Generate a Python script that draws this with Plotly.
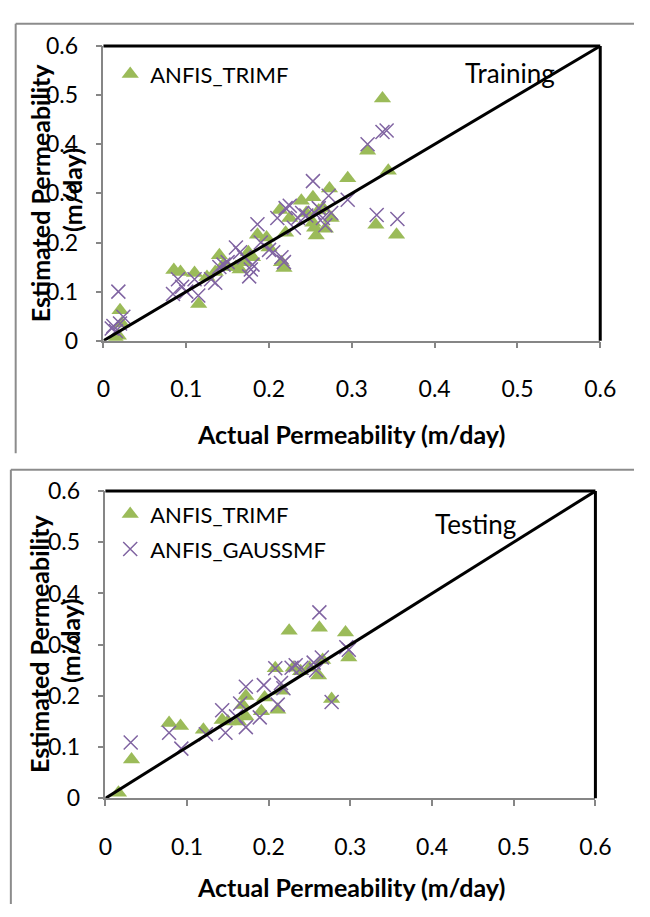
import plotly.graph_objects as go

# ---------------- data ----------------
train_trimf_x = [0.015, 0.018, 0.02, 0.022, 0.085, 0.093, 0.11, 0.115, 0.125, 0.135, 0.14, 0.145,
                 0.15, 0.16, 0.165, 0.17, 0.175, 0.18, 0.186, 0.197, 0.2, 0.213, 0.215, 0.218,
                 0.22, 0.225, 0.239, 0.245, 0.253, 0.253, 0.255, 0.257, 0.26, 0.265, 0.268,
                 0.273, 0.275, 0.295, 0.319, 0.329, 0.337, 0.344, 0.354]
train_trimf_y = [0.005, 0.01, 0.062, 0.035, 0.144, 0.14, 0.138, 0.075, 0.13, 0.14, 0.174, 0.155,
                 0.15, 0.15, 0.145, 0.16, 0.18, 0.17, 0.216, 0.21, 0.19, 0.266, 0.16, 0.148,
                 0.22, 0.25, 0.285, 0.26, 0.292, 0.24, 0.23, 0.214, 0.265, 0.27, 0.228,
                 0.31, 0.25, 0.331, 0.387, 0.236, 0.493, 0.346, 0.216]

train_gauss_x = [0.01, 0.012, 0.015, 0.018, 0.024, 0.02, 0.084, 0.09, 0.095, 0.1, 0.11, 0.1145,
                 0.13, 0.135, 0.14, 0.145, 0.15, 0.16, 0.165, 0.17, 0.176, 0.178, 0.18, 0.186,
                 0.19, 0.2, 0.205, 0.21, 0.215, 0.218, 0.22, 0.225, 0.23, 0.235, 0.24, 0.245,
                 0.253, 0.255, 0.26, 0.265, 0.268, 0.272, 0.275, 0.295, 0.319, 0.33, 0.337,
                 0.342, 0.355]
train_gauss_y = [0.025, 0.03, 0.02, 0.1, 0.049, 0.035, 0.095, 0.125, 0.11, 0.1, 0.125, 0.092,
                 0.125, 0.118, 0.15, 0.155, 0.16, 0.19, 0.18, 0.17, 0.131, 0.145, 0.155, 0.237,
                 0.2, 0.185, 0.18, 0.25, 0.17, 0.16, 0.27, 0.275, 0.23, 0.25, 0.26, 0.255,
                 0.325, 0.26, 0.27, 0.25, 0.235, 0.295, 0.26, 0.287, 0.4, 0.256, 0.425,
                 0.428, 0.248]

test_trimf_x = [0.016, 0.032, 0.078, 0.092, 0.12, 0.143, 0.15, 0.163, 0.168, 0.172, 0.172,
                0.191, 0.195, 0.208, 0.211, 0.216, 0.225, 0.23, 0.239, 0.25, 0.261, 0.262,
                0.266, 0.277, 0.294, 0.298]
test_trimf_y = [0.011, 0.076, 0.147, 0.141, 0.134, 0.153, 0.15, 0.15, 0.182, 0.2, 0.16,
                0.17, 0.197, 0.254, 0.173, 0.21, 0.327, 0.255, 0.248, 0.255, 0.24, 0.333,
                0.27, 0.194, 0.324, 0.275]

test_gauss_x = [0.031, 0.078, 0.093, 0.123, 0.143, 0.147, 0.16, 0.165, 0.172, 0.172, 0.189,
                0.194, 0.208, 0.211, 0.215, 0.218, 0.228, 0.233, 0.24, 0.255, 0.258, 0.262,
                0.265, 0.277, 0.295, 0.298]
test_gauss_y = [0.109, 0.128, 0.097, 0.125, 0.172, 0.128, 0.16, 0.185, 0.218, 0.139, 0.158,
                0.221, 0.254, 0.183, 0.225, 0.215, 0.255, 0.26, 0.255, 0.265, 0.25, 0.363,
                0.275, 0.188, 0.295, 0.29]

line_xy = [0, 0.6]
tick_vals = [0, 0.1, 0.2, 0.3, 0.4, 0.5, 0.6]
tick_text = ["0", "0.1", "0.2", "0.3", "0.4", "0.5", "0.6"]

W, H = 650, 917
FONT = "Lato"
GREEN = "#9BBB59"
PURPLE = "#8064A2"
AXGRAY = "#868686"

fig = go.Figure()

def add_panel(xa, ya, tx, ty, gx, gy, leg_tri, leg_x, show_gauss_legend):
    fig.add_trace(go.Scatter(x=tx, y=ty, mode="markers", name="ANFIS_TRIMF",
                             xaxis=xa, yaxis=ya, legend=leg_tri,
                             marker=dict(symbol="triangle-up", size=15, color=GREEN)))
    fig.add_trace(go.Scatter(x=gx, y=gy, mode="markers", name="ANFIS_GAUSSMF",
                             xaxis=xa, yaxis=ya, legend=leg_x, showlegend=show_gauss_legend,
                             marker=dict(symbol="x-thin-open", size=14, color=PURPLE,
                                         line=dict(color=PURPLE, width=1.5))))
    fig.add_trace(go.Scatter(x=line_xy, y=line_xy, mode="lines", showlegend=False,
                             xaxis=xa, yaxis=ya, line=dict(color="black", width=3)))

add_panel("x", "y", train_trimf_x, train_trimf_y, train_gauss_x, train_gauss_y,
          "legend", "legend", False)
add_panel("x2", "y2", test_trimf_x, test_trimf_y, test_gauss_x, test_gauss_y,
          "legend2", "legend3", True)

def px_x(p):
    return p / W

def px_y(p):
    return 1 - p / H

axis_common = dict(range=[0, 0.6], tickvals=tick_vals, ticktext=tick_text,
                   showgrid=False, zeroline=False, showline=True, linecolor=AXGRAY,
                   linewidth=1.5, ticks="outside", ticklen=6, tickwidth=1.5,
                   tickcolor=AXGRAY, tickfont=dict(family=FONT, size=23, color="black"))

leg_common = dict(xanchor="left", yanchor="middle", bgcolor="rgba(0,0,0,0)",
                  font=dict(family=FONT, size=22, color="black"), itemwidth=30,
                  borderwidth=0)

fig.update_layout(
    width=W, height=H, margin=dict(l=0, r=0, t=0, b=0),
    paper_bgcolor="white", plot_bgcolor="white",
    xaxis=dict(domain=[px_x(100), px_x(615)], anchor="y", ticklabelstandoff=21, **axis_common),
    yaxis=dict(domain=[px_y(336), px_y(32)], anchor="x", ticklabelstandoff=13, **axis_common),
    xaxis2=dict(domain=[px_x(102), px_x(610)], anchor="y2", ticklabelstandoff=21, **axis_common),
    yaxis2=dict(domain=[px_y(808), px_y(491)], anchor="x2", ticklabelstandoff=13, **axis_common),
    legend=dict(x=px_x(107), y=px_y(61), **leg_common),
    legend2=dict(x=px_x(107), y=px_y(515), **leg_common),
    legend3=dict(x=px_x(107), y=px_y(551), **leg_common),
    showlegend=True,
)

shapes = []
for xr, yr in (("x", "y"), ("x2", "y2")):
    shapes.append(dict(type="line", xref=f"{xr} domain", yref=f"{yr} domain",
                       x0=0, x1=1, y0=1, y1=1, line=dict(color="black", width=3)))
    shapes.append(dict(type="line", xref=f"{xr} domain", yref=f"{yr} domain",
                       x0=1, x1=1, y0=0, y1=1, line=dict(color="black", width=3)))
frame = dict(color="#8c8c8c", width=2)
shapes += [
    dict(type="line", xref="paper", yref="paper", x0=px_x(9), x1=1, y0=px_y(9), y1=px_y(9), line=frame),
    dict(type="line", xref="paper", yref="paper", x0=px_x(9), x1=px_x(9), y0=px_y(9), y1=px_y(452), line=frame),
    dict(type="line", xref="paper", yref="paper", x0=px_x(4), x1=1, y0=px_y(469), y1=px_y(469), line=frame),
    dict(type="line", xref="paper", yref="paper", x0=px_x(4), x1=px_x(4), y0=px_y(469), y1=0, line=frame),
]
fig.update_layout(shapes=shapes)

bold = dict(family=FONT, size=25, color="black")
def A(text, x, y, font, angle=0):
    return dict(text=text, x=px_x(x), y=px_y(y), xref="paper", yref="paper",
                xanchor="center", yanchor="middle", showarrow=False, textangle=angle, font=font)

ann = [
    A("<b>Actual Permeability (m/day)</b>", 357, 432, bold),
    A("<b>Actual Permeability (m/day)</b>", 357, 899, bold),
    A("<b>Estimated Permeability</b>", 35, 184, bold, -90),
    A("<b>(m/day)</b>", 68, 181, bold, -90),
    A("<b>Estimated Permeability</b>", 33, 649, bold, -90),
    A("<b>(m/day)</b>", 66, 646, bold, -90),
    A("Training", 521, 60, dict(family=FONT, size=26, color="black")),
    A("Testing", 486, 525, dict(family=FONT, size=26, color="black")),
]
fig.update_layout(annotations=ann)

fig.write_html(
    "out.html",
    config={"displayModeBar": False},
    post_script="document.body.style.margin='0';",
)
